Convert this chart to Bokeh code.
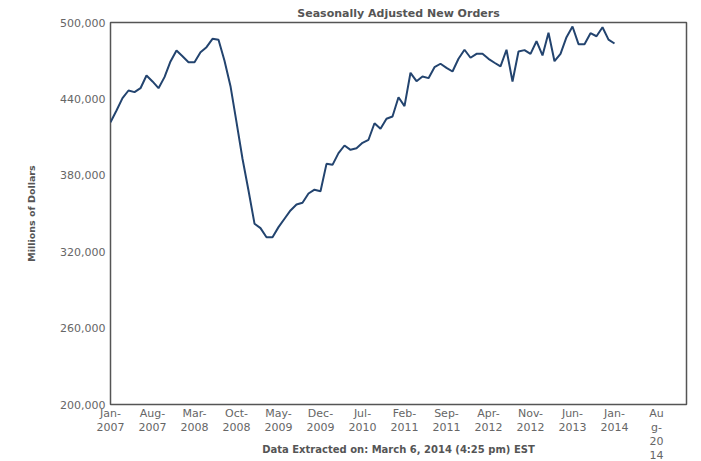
import pandas as pd
from bokeh.plotting import figure
from bokeh.models import FixedTicker, NumeralTickFormatter, Range1d, ColumnDataSource
from bokeh.embed import file_html
from bokeh.resources import INLINE

# ---- data (monthly, Jan-2007 .. Jan-2014), millions of dollars ----
values = [
    421700, 430900, 440600, 446600, 445300, 448400, 458400, 453700, 448400, 457100, 469400, 478000,  # 2007
    473500, 468800, 468800, 476700, 480600, 487200, 486400, 470000, 450000, 421700, 393000, 368100,  # 2008
    342000, 338500, 331400, 331400, 339300, 345900, 352400, 357100, 358500, 365700, 368700, 367500,  # 2009
    389000, 388200, 397400, 403400, 400000, 401300, 405500, 407900, 420900, 416500, 424400, 426200,  # 2010
    441300, 434300, 460500, 453900, 457600, 456300, 464900, 467600, 464400, 461500, 471500, 478600,  # 2011
    472300, 475400, 475400, 471500, 468400, 465500, 478600, 453700, 477200, 478300, 475400, 485300,  # 2012
    474100, 491900, 469600, 475400, 488500, 496900, 483000, 483000, 491600, 489200, 496300, 486600,  # 2013
    483500,                                                                                          # 2014
]
months = [p.strftime("%b-%Y") for p in pd.period_range("2007-01", periods=len(values), freq="M")]
month_index = list(range(len(values)))

x_tick_positions = [0, 7, 14, 21, 28, 35, 42, 49, 56, 63, 70, 77, 84, 91]
x_tick_labels = ["Jan-\n2007", "Aug-\n2007", "Mar-\n2008", "Oct-\n2008", "May-\n2009", "Dec-\n2009",
                 "Jul-\n2010", "Feb-\n2011", "Sep-\n2011", "Apr-\n2012", "Nov-\n2012", "Jun-\n2013",
                 "Jan-\n2014", "Au\ng-\n20\n14"]
y_ticks = [200000, 260000, 320000, 380000, 440000, 500000]

title_text = "Seasonally Adjusted New Orders"
x_label = "Data Extracted on: March 6, 2014 (4:25 pm) EST"
y_label = "Millions of Dollars"

src = ColumnDataSource(dict(x=month_index, y=values, month=months))

FONT = "DejaVu Sans"

p = figure(width=701, height=461, output_backend="svg", toolbar_location=None,
           x_range=Range1d(0, 96), y_range=Range1d(200000, 500000),
           min_border_left=110, min_border_right=15, min_border_top=22, min_border_bottom=57)

p.title.text = title_text
p.title.align = "center"
p.title.vertical_align = "top"
p.title.text_font = FONT
p.title.text_font_size = "11px"
p.title.text_font_style = "bold"
p.title.text_color = "#555555"
p.title.offset = 0
p.title.standoff = 2

p.xgrid.visible = False
p.ygrid.visible = False
p.outline_line_color = "#555555"
p.outline_line_width = 1.5
p.background_fill_color = "white"
p.border_fill_color = "white"

xa = p.xaxis[0]
xa.ticker = FixedTicker(ticks=x_tick_positions)
xa.major_label_overrides = {t: lab for t, lab in zip(x_tick_positions, x_tick_labels)}
xa.axis_line_color = None
xa.major_tick_line_color = None
xa.minor_tick_line_color = None
xa.major_tick_in = 0
xa.major_tick_out = 0
xa.major_label_standoff = 2
xa.major_label_text_font = FONT
xa.major_label_text_font_size = "11px"
xa.major_label_text_line_height = 1.1
xa.major_label_text_color = "#666666"
xa.axis_label = x_label
xa.axis_label_text_font = FONT
xa.axis_label_text_font_size = "10px"
xa.axis_label_text_font_style = "bold"
xa.axis_label_text_color = "#555555"
xa.axis_label_standoff = -21

ya = p.yaxis[0]
ya.ticker = FixedTicker(ticks=y_ticks)
ya.formatter = NumeralTickFormatter(format="0,0")
ya.axis_line_color = None
ya.major_tick_line_color = None
ya.minor_tick_line_color = None
ya.major_tick_in = 0
ya.major_tick_out = 0
ya.major_label_standoff = 5
ya.major_label_text_font = FONT
ya.major_label_text_font_size = "11px"
ya.major_label_text_color = "#666666"
ya.axis_label = y_label
ya.axis_label_text_font = FONT
ya.axis_label_text_font_size = "9.5px"
ya.axis_label_text_font_style = "bold"
ya.axis_label_text_color = "#555555"
ya.axis_label_standoff = 20

p.line("x", "y", source=src, line_color="#23446f", line_width=2)

open("out.html", "w").write(file_html(p, INLINE))
